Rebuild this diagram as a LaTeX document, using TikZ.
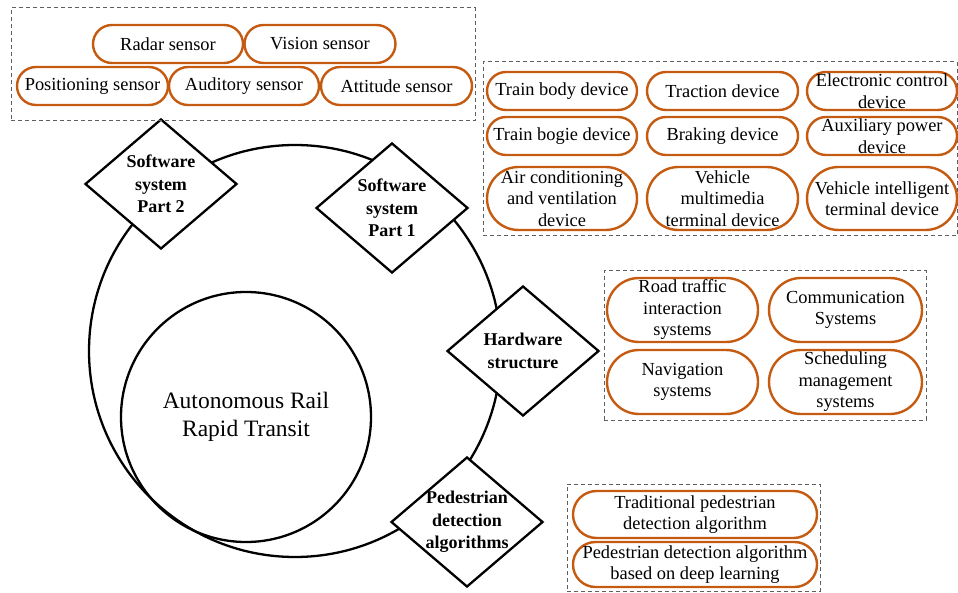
\documentclass[tikz,border=0pt]{standalone}
\usepackage{fontspec}
\setmainfont{Liberation Serif}
\usetikzlibrary{shapes.geometric}
\definecolor{pillorange}{RGB}{197,90,17}
\definecolor{dashgray}{RGB}{95,95,95}
\begin{document}
\begin{tikzpicture}[x=1pt,y=-1pt,
  pill/.style={draw=pillorange, line width=2.4pt, inner sep=0pt,
               minimum height=2*#1 pt, rounded corners=#1 pt},
  ptxt/.style={font=\fontsize{18.4}{21.5}\selectfont, align=center, inner sep=0pt},
  group/.style={draw=dashgray, line width=1pt, dash pattern=on 4pt off 3pt},
  ring/.style={draw=black, line width=2.3pt, circle, inner sep=0pt},
  dia/.style={draw=black, line width=2.3pt, fill=white, diamond, inner sep=0pt,
              minimum width=152pt, minimum height=130pt},
  dtxt/.style={font=\fontsize{18}{22.5}\selectfont\bfseries, align=center, inner sep=0pt},
  title/.style={font=\fontsize{23.5}{28}\selectfont, align=center, inner sep=0pt}]

\path[use as bounding box] (0,0) rectangle (958,593);

% core rings
\node[ring, minimum size=412pt] (outer) at (295,351) {};
\node[ring, minimum size=250pt] (inner) at (246,417) {};
\node[title] (art) at (246,417) {Autonomous Rail\\Rapid Transit};

% subsystem diamonds on the outer ring
\node[dia] (sw2) at (161,184) {};
\node[dtxt] (sw2t) at (sw2) {Software\\system\\Part 2};
\node[dia] (sw1) at (392,208) {};
\node[dtxt] (sw1t) at (sw1) {Software\\system\\Part 1};
\node[dia] (hw) at (523,351) {};
\node[dtxt] (hwt) at (hw) {Hardware\\structure};
\node[dia] (ped) at (467,522) {};
\node[dtxt] (pedt) at (ped) {Pedestrian\\detection\\algorithms};

% sensors
\node[group, minimum width=464pt, minimum height=113pt, inner sep=0pt] (gsens) at (243,64.5) {};
\node[pill=19, minimum width=150pt] (radar) at (168,44) {};
\node[ptxt] at (radar) {Radar sensor};
\node[pill=19, minimum width=151pt] (vision) at (320,44) {};
\node[ptxt] at (vision) {Vision sensor};
\node[pill=19, minimum width=151pt] (posit) at (92.5,86) {};
\node[ptxt] at (posit) {Positioning sensor};
\node[pill=19, minimum width=150pt] (audit) at (244,86) {};
\node[ptxt] at (audit) {Auditory sensor};
\node[pill=19, minimum width=151pt] (attit) at (396.5,86) {};
\node[ptxt] at (attit) {Attitude sensor};

% vehicle devices
\node[group, minimum width=474pt, minimum height=174pt, inner sep=0pt] (gdev) at (720,149) {};
\node[pill=19, minimum width=150pt] (body) at (562,91) {};
\node[ptxt] at (body) {Train body device};
\node[pill=19, minimum width=151pt] (tract) at (722.5,91) {};
\node[ptxt] at (tract) {Traction device};
\node[pill=19, minimum width=150pt] (ecu) at (882,91) {};
\node[ptxt] at (ecu) {Electronic control\\device};
\node[pill=19, minimum width=150pt] (bogie) at (562,136) {};
\node[ptxt] at (bogie) {Train bogie device};
\node[pill=19, minimum width=151pt] (brake) at (722.5,136) {};
\node[ptxt] at (brake) {Braking device};
\node[pill=19, minimum width=150pt] (aux) at (882,136) {};
\node[ptxt] at (aux) {Auxiliary power\\device};
\node[pill=31.5, minimum width=150pt] (hvac) at (562,198.5) {};
\node[ptxt] at (hvac) {Air conditioning\\and ventilation\\device};
\node[pill=31.5, minimum width=151pt] (media) at (722.5,198.5) {};
\node[ptxt] at (media) {Vehicle\\multimedia\\terminal device};
\node[pill=31.5, minimum width=150pt] (intel) at (882,198.5) {};
\node[ptxt] at (intel) {Vehicle intelligent\\terminal device};

% hardware systems
\node[group, minimum width=322pt, minimum height=149pt, inner sep=0pt] (gsys) at (765,345.5) {};
\node[pill=32, minimum width=151pt] (road) at (682.5,310) {};
\node[ptxt] at (road) {Road traffic\\interaction\\systems};
\node[pill=32, minimum width=153pt] (comm) at (845.5,310) {};
\node[ptxt] at (comm) {Communication\\Systems};
\node[pill=32, minimum width=151pt] (navi) at (682.5,382) {};
\node[ptxt] at (navi) {Navigation\\systems};
\node[pill=32, minimum width=153pt] (sched) at (845.5,382) {};
\node[ptxt] at (sched) {Scheduling\\management\\systems};

% pedestrian detection algorithms
\node[group, minimum width=253pt, minimum height=107pt, inner sep=0pt] (galg) at (693.5,537.5) {};
\node[pill=23.5, minimum width=244pt] (trad) at (695,514.5) {};
\node[ptxt] at (trad) {Traditional pedestrian\\detection algorithm};
\node[pill=22.5, minimum width=244pt] (deep) at (695,564.5) {};
\node[ptxt] at (deep) {Pedestrian detection algorithm\\based on deep learning};

\end{tikzpicture}
\end{document}
